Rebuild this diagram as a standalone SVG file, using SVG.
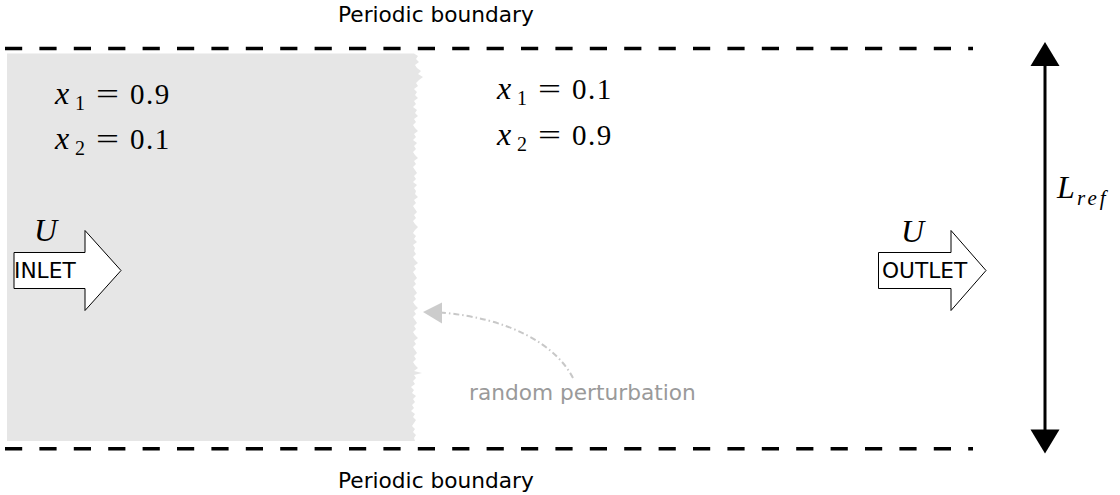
<svg xmlns="http://www.w3.org/2000/svg" width="1120" height="495" viewBox="0 0 1120 495">
<style>
.lbl{font-family:"DejaVu Sans",sans-serif;font-size:21.7px;fill:#000}
.m{font-family:"Liberation Serif",serif;font-size:29px;fill:#000}
.mi{font-family:"Liberation Serif",serif;font-size:32px;font-style:italic;fill:#000}
.sub{font-family:"Liberation Serif",serif;font-size:20px;fill:#000}
.subi{font-family:"Liberation Serif",serif;font-size:21px;font-style:italic;fill:#000}
.bound{stroke:#000;stroke-width:3.4;stroke-dasharray:17.2 17.2;fill:none}
.blk{fill:#fff;stroke:#000;stroke-width:1}
</style>
<rect width="1120" height="495" fill="#fff"/>
<g id="inlet-region">
<polygon fill="#e6e6e6" points="7,53.5 414,53.5 418,56 416,59 419,62 415,65 417,68 421,71 418,74 423,77 419,80 416,83 418,86 414,89 417,92 415,95 418,98 414,101 416,104 413,107 417,110 415,113 418,116 414,119 416,122 413,125 415,128 418,131 414,134 416,137 413,140 417,143 414,146 416,149 413,152 415,155 418,158 414,161 416,164 413,167 415,170 417,173 414,176 416,179 413,182 417,185 414,188 416,191 415,194 418,197 414,200 416,203 413,206 415,209 417,212 414,215 416,218 413,221 415,224 418,227 415,230 413,233 416,236 414,239 417,242 413,245 415,248 414,251 416,254 413,257 415,260 418,263 414,266 416,269 413,272 415,275 417,278 414,281 416,284 413,287 415,290 417,293 414,296 416,299 413,302 415,305 418,308 414,311 416,314 413,317 415,320 417,323 414,326 416,329 413,332 415,335 418,338 414,341 416,344 413,347 415,350 417,353 414,356 416,359 413,362 415,365 418,368 414,371 422,373 414,375 416,378 413,381 415,384 411,387 414,390 412,393 416,396 413,399 415,402 412,405 414,408 411,411 415,414 413,417 416,420 414,423 412,426 415,429 413,432 416,435 414,438 415,441 7,441"/>
<text class="mi" x="55" y="104">x</text>
<text class="sub" x="75" y="110">1</text>
<text class="m" x="96" y="104" textLength="23" lengthAdjust="spacingAndGlyphs">=</text>
<text class="m" x="130" y="104" letter-spacing="1.5">0.9</text>
<text class="mi" x="55" y="149">x</text>
<text class="sub" x="75" y="155">2</text>
<text class="m" x="96" y="149" textLength="23" lengthAdjust="spacingAndGlyphs">=</text>
<text class="m" x="130" y="149" letter-spacing="1.5">0.1</text>
</g>
<g id="outlet-region">
<text class="mi" x="497" y="99">x</text>
<text class="sub" x="517" y="105">1</text>
<text class="m" x="538" y="99" textLength="23" lengthAdjust="spacingAndGlyphs">=</text>
<text class="m" x="572" y="99" letter-spacing="1.5">0.1</text>
<text class="mi" x="497" y="145">x</text>
<text class="sub" x="517" y="151">2</text>
<text class="m" x="538" y="145" textLength="23" lengthAdjust="spacingAndGlyphs">=</text>
<text class="m" x="572" y="145" letter-spacing="1.5">0.9</text>
</g>
<g id="boundaries">
<line class="bound" x1="5" y1="48.5" x2="973" y2="48.5"/>
<line class="bound" x1="5" y1="448.8" x2="973" y2="448.8"/>
<text class="lbl" x="338" y="22">Periodic boundary</text>
<text class="lbl" x="338" y="488">Periodic boundary</text>
</g>
<g id="inlet">
<polygon class="blk" points="14,252.5 85,252.5 85,230.5 121,270.5 85,310.5 85,288.5 14,288.5"/>
<text class="lbl" x="14" y="278">INLET</text>
<text class="mi" x="34" y="241">U</text>
</g>
<g id="outlet">
<polygon class="blk" points="878.5,252.5 951,252.5 951,230.5 986,270.5 951,310.5 951,288.5 878.5,288.5"/>
<text class="lbl" x="882" y="278">OUTLET</text>
<text class="mi" x="901" y="242">U</text>
</g>
<g id="lref">
<line x1="1045" y1="62" x2="1045" y2="433" stroke="#000" stroke-width="3"/>
<polygon points="1045,42 1030.5,66 1059.5,66" fill="#000"/>
<polygon points="1045,453.5 1030.5,429.5 1059.5,429.5" fill="#000"/>
<text class="mi" x="1057" y="198">L</text>
<text class="subi" x="1077" y="205" letter-spacing="3">ref</text>
</g>
<g id="connectors">
<path d="M573,378 C556,345 510,318 440,312.5" fill="none" stroke="#c8c8c8" stroke-width="2" stroke-dasharray="6 3 1.5 3"/>
<polygon points="423,312 442,302.5 442,323.5" fill="#cccccc"/>
</g>
<g id="perturbation-label">
<text class="lbl" x="469" y="400" style="fill:#9a9a9a">random perturbation</text>
</g>
</svg>
